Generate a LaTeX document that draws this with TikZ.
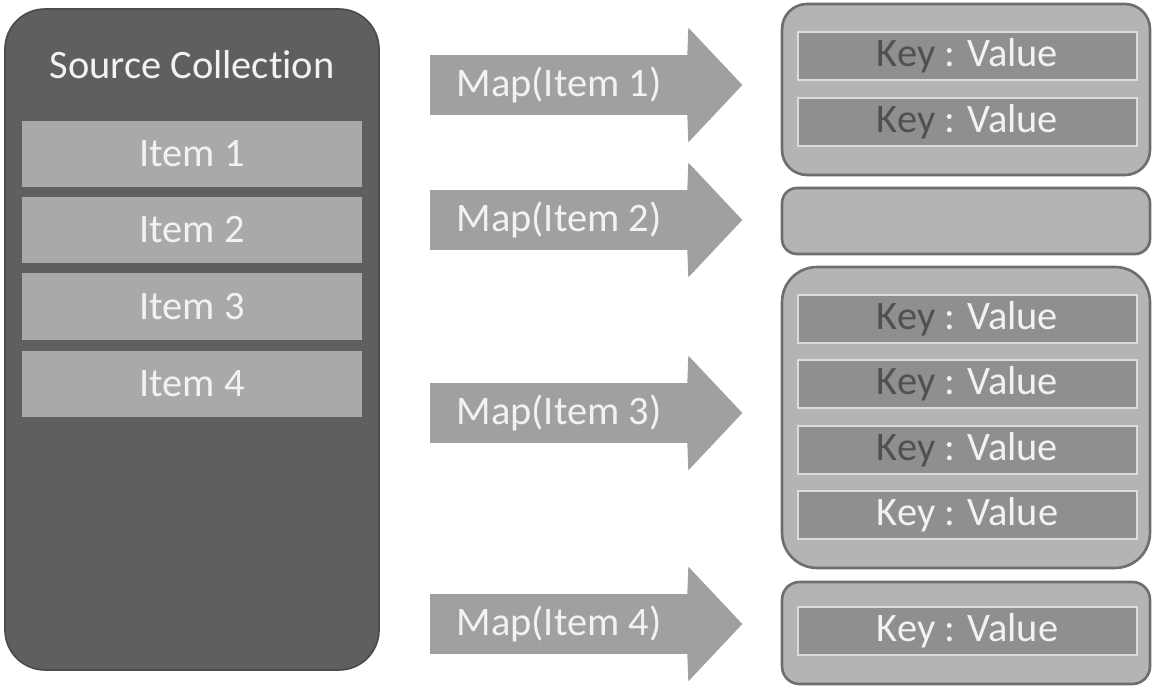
\documentclass[tikz,border=0pt]{standalone}
\usepackage{fontspec}
\setmainfont{Carlito}[Ligatures=NoCommon]
\usetikzlibrary{calc}
\definecolor{srcbg}{HTML}{5F5F5F}
\definecolor{itembg}{HTML}{A9A9A9}
\definecolor{arrowbg}{HTML}{A0A0A0}
\definecolor{resbg}{HTML}{B4B4B4}
\definecolor{resline}{HTML}{6E6E6E}
\definecolor{kvbg}{HTML}{8F8F8F}
\definecolor{kvline}{HTML}{DCDCDC}
\definecolor{lighttext}{HTML}{F2F2F2}
\definecolor{darktext}{HTML}{505050}
\tikzset{
  txt/.style={font=\fontsize{23}{27}\selectfont, text=lighttext},
  srcbox/.style={fill=srcbg, draw=srcbg!80!black, line width=1pt, rounded corners=0.8cm,
    minimum width=7.48cm, minimum height=13.22cm, inner sep=0pt},
  itembar/.style={txt, fill=itembg, minimum width=6.82cm, minimum height=1.34cm, inner sep=0pt},
  shaft/.style={txt, fill=arrowbg, minimum width=5.16cm, minimum height=1.2cm, inner sep=0pt},
  headfill/.style={fill=arrowbg},
  resbox/.style={fill=resbg, draw=resline, line width=1.5pt, minimum width=7.36cm, inner sep=0pt},
  kvbar/.style={txt, fill=kvbg, draw=kvline, line width=1.2pt, minimum width=6.78cm, minimum height=0.96cm, inner sep=0pt},
}
\newcommand{\kvdark}{{\color{darktext}Key} : Value}
\newcommand{\kvlight}{Key : Value}
\newcommand{\arrowhead}[1]{%
  \fill[headfill] ($(#1.north east)+(-1,0)$) -- ($(#1.north east)+(0,-27)$)
    -- ($(#1.east)+(54,0)$) -- ($(#1.south east)+(0,27)$) -- ($(#1.south east)+(-1,0)$) -- cycle;}
\begin{document}
\begin{tikzpicture}[x=0.02cm, y=-0.02cm]
\useasboundingbox (0,0) rectangle (1155,688);
\fill[white] (0,0) rectangle (1155,688);

% source collection
\node[srcbox] (src) at (192,339.5) {};
\node[txt] (title) at (192,65) {Source Collection};
\node[itembar] (i1) at (192,154) {Item 1};
\node[itembar] (i2) at (192,230) {Item 2};
\node[itembar] (i3) at (192,306.5) {Item 3};
\node[itembar] (i4) at (192,384) {Item 4};

% map arrows
\node[shaft] (m1) at (559,85) {Map(Item 1)};
\node[shaft] (m2) at (559,220) {Map(Item 2)};
\node[shaft] (m3) at (559,413) {Map(Item 3)};
\node[shaft] (m4) at (559,624) {Map(Item 4)};
\arrowhead{m1}
\arrowhead{m2}
\arrowhead{m3}
\arrowhead{m4}

% result groups
\node[resbox, rounded corners=0.5cm, minimum height=3.42cm] (r1) at (966,89.5) {};
\node[resbox, rounded corners=0.3cm, minimum height=1.32cm] (r2) at (966,221) {};
\node[resbox, rounded corners=0.7cm, minimum height=6.02cm] (r3) at (966,417.5) {};
\node[resbox, rounded corners=0.35cm, minimum height=2.04cm] (r4) at (966,633) {};

\node[kvbar] (k11) at (967.5,56) {\kvdark};
\node[kvbar] (k12) at (967.5,122) {\kvdark};
\node[kvbar] (k31) at (967.5,319) {\kvdark};
\node[kvbar] (k32) at (967.5,384) {\kvdark};
\node[kvbar] (k33) at (967.5,450) {\kvdark};
\node[kvbar] (k34) at (967.5,515) {\kvlight};
\node[kvbar] (k41) at (967.5,631) {\kvlight};
\end{tikzpicture}
\end{document}
